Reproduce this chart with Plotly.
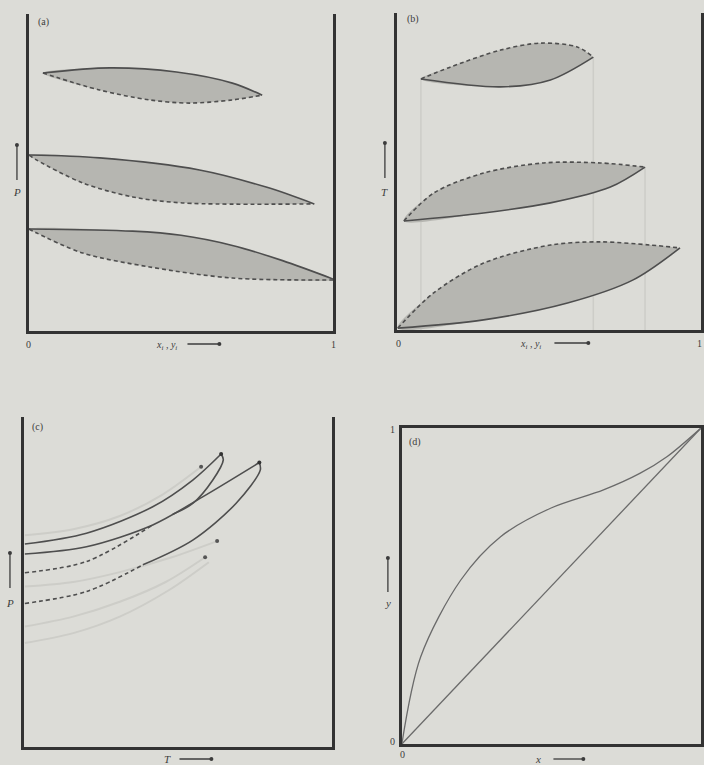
import plotly.graph_objects as go

W, H = 704, 765

# ---- (a) isothermal P vs x,y lenses: solid = liquid (bubble), dashed = vapour (dew)
a1_liq_x = [0.046, 0.266, 0.485, 0.669, 0.767]
a1_liq_p = [0.814, 0.830, 0.817, 0.782, 0.744]
a1_vap_x = [0.046, 0.233, 0.397, 0.528, 0.669, 0.767]
a1_vap_p = [0.814, 0.760, 0.729, 0.719, 0.729, 0.744]

a2_liq_x = [0.0, 0.233, 0.561, 0.780, 0.938]
a2_liq_p = [0.555, 0.546, 0.508, 0.454, 0.401]
a2_vap_x = [0.0, 0.026, 0.177, 0.341, 0.505, 0.938]
a2_vap_p = [0.555, 0.539, 0.467, 0.423, 0.404, 0.401]

a3_liq_x = [0.0, 0.341, 0.500, 0.669, 0.834, 1.0]
a3_liq_p = [0.322, 0.315, 0.302, 0.270, 0.222, 0.164]
a3_vap_x = [0.0, 0.026, 0.177, 0.397, 0.669, 1.0]
a3_vap_p = [0.322, 0.309, 0.246, 0.202, 0.167, 0.161]

# ---- (b) isobaric T vs x,y lenses
b1_liq_x = [0.079, 0.341, 0.505, 0.646]
b1_liq_t = [0.792, 0.767, 0.789, 0.861]
b1_vap_x = [0.079, 0.177, 0.341, 0.472, 0.593, 0.646]
b1_vap_t = [0.792, 0.830, 0.883, 0.905, 0.893, 0.861]

b2_liq_x = [0.023, 0.285, 0.505, 0.702, 0.816]
b2_liq_t = [0.344, 0.369, 0.401, 0.451, 0.514]
b2_vap_x = [0.023, 0.121, 0.285, 0.482, 0.669, 0.816]
b2_vap_t = [0.344, 0.432, 0.495, 0.527, 0.527, 0.514]

b3_liq_x = [0.003, 0.285, 0.561, 0.777, 0.931]
b3_liq_t = [0.006, 0.032, 0.085, 0.158, 0.259]
b3_vap_x = [0.003, 0.121, 0.285, 0.505, 0.669, 0.833, 0.931]
b3_vap_t = [0.006, 0.117, 0.211, 0.268, 0.278, 0.268, 0.259]

# ---- (c) P vs T envelopes
cA_up_t = [0.003, 0.203, 0.418, 0.548, 0.640]
cA_up_p = [0.615, 0.648, 0.728, 0.809, 0.888]
cA_dn_t = [0.640, 0.647, 0.613, 0.548, 0.483]
cA_dn_p = [0.888, 0.870, 0.809, 0.738, 0.705]

cB_up_t = [0.003, 0.203, 0.418, 0.580, 0.764]
cB_up_p = [0.585, 0.607, 0.673, 0.758, 0.862]
cB_dn_t = [0.764, 0.767, 0.688, 0.548, 0.386]
cB_dn_p = [0.862, 0.839, 0.738, 0.627, 0.552]

cD1_t = [0.003, 0.203, 0.418]
cD1_p = [0.528, 0.562, 0.673]
cD2_t = [0.003, 0.203, 0.386]
cD2_p = [0.435, 0.471, 0.552]

# faint vapour-pressure curves and their critical points
cF1_t = [0.003, 0.160, 0.311, 0.450, 0.575]
cF1_p = [0.642, 0.660, 0.700, 0.765, 0.849]
cF2_t = [0.003, 0.160, 0.311, 0.480, 0.627]
cF2_p = [0.486, 0.500, 0.530, 0.575, 0.624]
cF3_t = [0.003, 0.160, 0.311, 0.460, 0.588]
cF3_p = [0.365, 0.395, 0.440, 0.500, 0.575]
cF4_t = [0.003, 0.160, 0.311, 0.470, 0.600]
cF4_p = [0.315, 0.345, 0.395, 0.475, 0.560]
crit_t = [0.575, 0.627, 0.588]
crit_p = [0.849, 0.624, 0.575]

# ---- (d) y-x diagram
d_x = [0.0, 0.063, 0.197, 0.330, 0.497, 0.674, 0.797, 0.886, 1.0]
d_y = [0.0, 0.276, 0.519, 0.656, 0.746, 0.804, 0.857, 0.909, 1.0]
diag = [0.0, 1.0]

BG = "#dcdcd7"
FILL = "#b6b6b1"
LINE = "#4e4e4e"
AXC = "#333333"
FAINT = "#cdcdc8"
TXT = "#3c3c3c"
FONT = "Liberation Serif"

fig = go.Figure()


def line(n, x, y, dash="solid", color=LINE, width=1.6):
    fig.add_trace(go.Scatter(x=x, y=y, mode="lines", xaxis=f"x{n}", yaxis=f"y{n}",
                             line=dict(color=color, width=width, dash=dash, shape="spline", smoothing=0.9),
                             hoverinfo="skip", showlegend=False))


def lens(n, lx, ly, vx, vy):
    fig.add_trace(go.Scatter(x=lx + vx[::-1], y=ly + vy[::-1], mode="lines", fill="toself",
                             fillcolor=FILL, line=dict(width=0, shape="spline", smoothing=0.9),
                             xaxis=f"x{n}", yaxis=f"y{n}", hoverinfo="skip", showlegend=False))
    line(n, vx, vy, dash="4px,3px")
    line(n, lx, ly)


# (b) faint verticals below lens ends
for xv, yv in [(b1_liq_x[0], b1_liq_t[0]), (b1_liq_x[-1], b1_liq_t[-1]), (b2_liq_x[-1], b2_liq_t[-1])]:
    fig.add_trace(go.Scatter(x=[xv, xv], y=[yv, 0], mode="lines", xaxis="x2", yaxis="y2",
                             line=dict(color=FAINT, width=1.5), hoverinfo="skip", showlegend=False))

lens(1, a1_liq_x, a1_liq_p, a1_vap_x, a1_vap_p)
lens(1, a2_liq_x, a2_liq_p, a2_vap_x, a2_vap_p)
lens(1, a3_liq_x, a3_liq_p, a3_vap_x, a3_vap_p)

lens(2, b1_liq_x, b1_liq_t, b1_vap_x, b1_vap_t)
lens(2, b2_liq_x, b2_liq_t, b2_vap_x, b2_vap_t)
lens(2, b3_liq_x, b3_liq_t, b3_vap_x, b3_vap_t)

for fx, fy in [(cF1_t, cF1_p), (cF2_t, cF2_p), (cF3_t, cF3_p), (cF4_t, cF4_p)]:
    line(3, fx, fy, color=FAINT, width=2)
line(3, cA_up_t, cA_up_p)
line(3, cA_dn_t, cA_dn_p)
line(3, cB_up_t, cB_up_p)
line(3, cB_dn_t, cB_dn_p)
line(3, cD1_t, cD1_p, dash="4px,3px")
line(3, cD2_t, cD2_p, dash="4px,3px")
fig.add_trace(go.Scatter(x=crit_t, y=crit_p, mode="markers", xaxis="x3", yaxis="y3",
                         marker=dict(color="#555555", size=4), hoverinfo="skip", showlegend=False))
fig.add_trace(go.Scatter(x=[cA_up_t[-1], cB_up_t[-1]], y=[cA_up_p[-1], cB_up_p[-1]], mode="markers",
                         xaxis="x3", yaxis="y3", marker=dict(color="#333333", size=4),
                         hoverinfo="skip", showlegend=False))

line(4, d_x, d_y, color="#6a6a6a", width=1.3)
line(4, diag, diag, color="#6a6a6a", width=1.3)

# panel boxes in pixels: (left, right, top, bottom, closed top)
boxes = {1: (29, 334, 14, 331, False), 2: (398, 703, 13, 330, False),
         3: (24, 333, 417, 747, False), 4: (403, 703, 428, 744, True)}
lay = {}
for n, (l, r, t, b, closed) in boxes.items():
    lay[f"xaxis{n}"] = dict(domain=[l / W, r / W], range=[0, 1], anchor=f"y{n}", showgrid=False,
                            zeroline=False, showticklabels=False, ticks="", showline=True,
                            linecolor=AXC, linewidth=2.5, mirror=closed, fixedrange=True)
    lay[f"yaxis{n}"] = dict(domain=[1 - b / H, 1 - t / H], range=[0, 1], anchor=f"x{n}", showgrid=False,
                            zeroline=False, showticklabels=False, ticks="", showline=True,
                            linecolor=AXC, linewidth=2.5, mirror=True, fixedrange=True)
fig.update_layout(**lay)

ann = []
shapes = []


def txt(x, y, s, size=10, italic=False):
    if italic:
        s = f"<i>{s}</i>"
    ann.append(dict(x=x / W, y=1 - y / H, xref="paper", yref="paper", text=s, showarrow=False,
                    xanchor="center", yanchor="middle",
                    font=dict(family=FONT, size=size, color=TXT)))


def arrow(x0, y0, x1, y1):
    # shaft from (x0, y0) to head (x1, y1), pixel coords from top-left
    shapes.append(dict(type="line", xref="paper", yref="paper", x0=x0 / W, y0=1 - y0 / H,
                       x1=x1 / W, y1=1 - y1 / H, line=dict(color=TXT, width=1.3)))
    shapes.append(dict(type="circle", xref="paper", yref="paper", x0=(x1 - 2) / W, y0=1 - (y1 + 2) / H,
                       x1=(x1 + 2) / W, y1=1 - (y1 - 2) / H, fillcolor=TXT, line=dict(width=0)))


txt(44, 22, "(a)")
txt(414, 19, "(b)")
txt(38, 427, "(c)")
txt(416, 442, "(d)")

txt(29, 345, "0"); txt(334, 345, "1")
txt(167, 346, "x<sub>i</sub> , y<sub>i</sub>", italic=True)
arrow(188, 344, 220, 344)
txt(400, 344, "0"); txt(701, 344, "1")
txt(532, 345, "x<sub>i</sub> , y<sub>i</sub>", italic=True)
arrow(556, 343, 590, 343)

txt(17, 192, "P", 11, True); arrow(17, 180, 17, 145)
txt(386, 192, "T", 11, True); arrow(386, 178, 386, 143)
txt(10, 603, "P", 11, True); arrow(10, 588, 10, 553)
txt(389, 603, "y", 11, True); arrow(389, 592, 389, 558)

txt(168, 759, "T", 11, True); arrow(180, 759, 212, 759)
txt(540, 759, "x", 11, True); arrow(555, 759, 585, 759)
txt(394, 429, "1"); txt(394, 741, "0"); txt(404, 754, "0")

fig.update_layout(width=W, height=H, margin=dict(l=0, r=0, t=0, b=0), paper_bgcolor=BG,
                  plot_bgcolor=BG, annotations=ann, shapes=shapes, showlegend=False)

fig.write_html("out.html", config={"displayModeBar": False},
               post_script="document.body.style.margin='0';document.body.style.background='%s';" % BG)
